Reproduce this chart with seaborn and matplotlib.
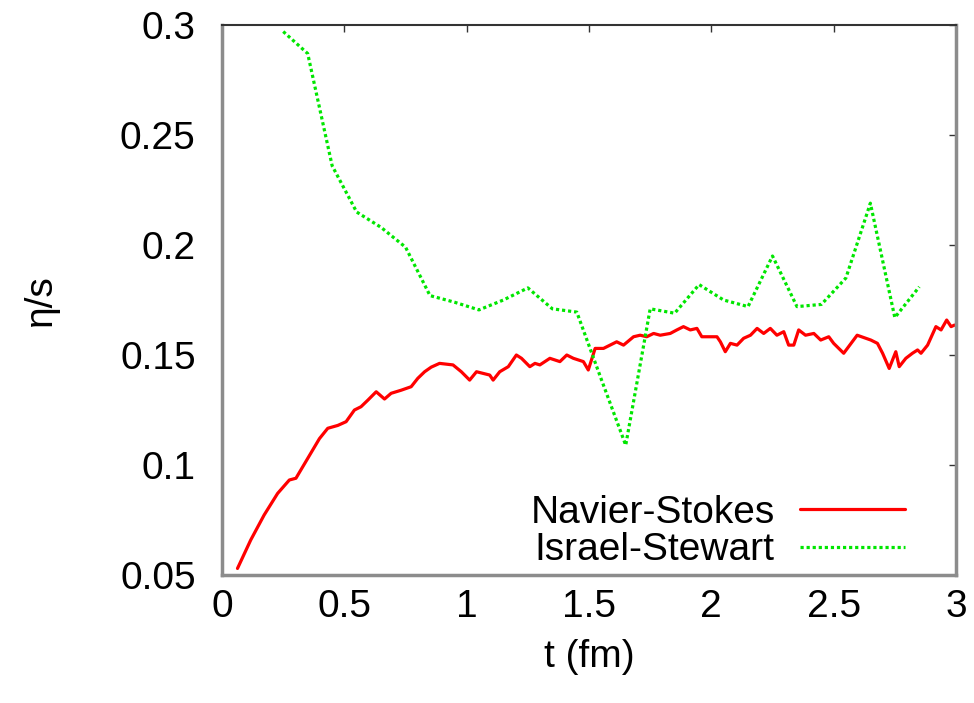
"""
eta/s versus time: Navier-Stokes vs Israel-Stewart extraction.
Values read off the reference figure.
"""

import pandas as pd
import matplotlib
matplotlib.use("Agg")
import matplotlib.pyplot as plt
import seaborn as sns

# ─── Data ─────────────────────────────────────────────────────────────────────

ns_t = [0.063, 0.117, 0.172, 0.227, 0.275, 0.302, 0.35, 0.398, 0.432, 0.473,
        0.507, 0.541, 0.568, 0.596, 0.63, 0.664, 0.691, 0.732, 0.773, 0.80,
        0.828, 0.855, 0.889, 0.944, 0.978, 1.012, 1.04, 1.094, 1.108, 1.135,
        1.17, 1.203, 1.224, 1.258, 1.279, 1.299, 1.34, 1.381, 1.409, 1.436,
        1.477, 1.497, 1.525, 1.559, 1.586, 1.613, 1.641, 1.682, 1.709, 1.736,
        1.764, 1.791, 1.832, 1.859, 1.886, 1.914, 1.941, 1.961, 1.996, 2.023,
        2.037, 2.057, 2.078, 2.105, 2.132, 2.16, 2.187, 2.214, 2.241, 2.268,
        2.296, 2.316, 2.337, 2.357, 2.385, 2.419, 2.447, 2.48, 2.5, 2.541,
        2.596, 2.652, 2.679, 2.70, 2.727, 2.754, 2.768, 2.795, 2.822, 2.843,
        2.857, 2.884, 2.918, 2.939, 2.962, 2.98, 2.994]
ns_eta = [0.053, 0.0659, 0.0773, 0.0871, 0.0932, 0.094, 0.103, 0.112, 0.1167, 0.118,
          0.1197, 0.125, 0.1265, 0.1295, 0.1333, 0.130, 0.1326, 0.134, 0.1356, 0.1394,
          0.1424, 0.1445, 0.1462, 0.1455, 0.1424, 0.1386, 0.1424, 0.1409, 0.1386, 0.1424,
          0.1447, 0.150, 0.1485, 0.1447, 0.1462, 0.1455, 0.1485, 0.147, 0.150, 0.1485,
          0.147, 0.1432, 0.153, 0.153, 0.1545, 0.156, 0.1545, 0.1583, 0.159, 0.1583,
          0.1598, 0.159, 0.1598, 0.1614, 0.1629, 0.1614, 0.1621, 0.1583, 0.1583, 0.1583,
          0.156, 0.1515, 0.1553, 0.1545, 0.1576, 0.159, 0.1621, 0.1598, 0.1621, 0.159,
          0.1606, 0.1545, 0.1545, 0.1614, 0.159, 0.1598, 0.1568, 0.1583, 0.1553, 0.1508,
          0.159, 0.1568, 0.1553, 0.1508, 0.1439, 0.1515, 0.1447, 0.1485, 0.1508, 0.1523,
          0.1508, 0.1545, 0.1629, 0.1614, 0.1659, 0.1629, 0.1636]

is_t = [0.25, 0.35, 0.45, 0.55, 0.65, 0.75, 0.85, 0.95, 1.05, 1.15, 1.25, 1.35,
        1.45, 1.55, 1.65, 1.75, 1.85, 1.95, 2.05, 2.15, 2.25, 2.35, 2.45, 2.55,
        2.65, 2.75, 2.85]
is_eta = [0.297, 0.287, 0.236, 0.215, 0.208, 0.199, 0.177, 0.174, 0.1705, 0.175,
          0.1805, 0.171, 0.1695, 0.139, 0.109, 0.171, 0.169, 0.182, 0.175, 0.172,
          0.195, 0.172, 0.173, 0.185, 0.219, 0.167, 0.181]

x_ticks = [0, 0.5, 1, 1.5, 2, 2.5, 3]
x_labels = ["0", "0.5", "1", "1.5", "2", "2.5", "3"]
y_ticks = [0.05, 0.1, 0.15, 0.2, 0.25, 0.3]
y_labels = ["0.05", "0.1", "0.15", "0.2", "0.25", "0.3"]

FS = 28


# ─── Plot ─────────────────────────────────────────────────────────────────────

def main():
    sns.set_style("white")
    plt.rcParams["font.family"] = ["Liberation Sans", "DejaVu Sans"]
    plt.rcParams["text.color"] = "black"
    plt.rcParams["axes.labelcolor"] = "black"
    plt.rcParams["xtick.labelcolor"] = "black"
    plt.rcParams["ytick.labelcolor"] = "black"

    ns = pd.DataFrame({"t": ns_t, "eta": ns_eta})
    isr = pd.DataFrame({"t": is_t, "eta": is_eta})

    fig = plt.figure(figsize=(9.74, 7.03), dpi=100)
    ax = fig.add_axes([0.228, 0.182, 0.7535, 0.7825])

    sns.lineplot(data=ns, x="t", y="eta", ax=ax, color="#ff0000", lw=2.3,
                 label="Navier-Stokes", sort=False)
    sns.lineplot(data=isr, x="t", y="eta", ax=ax, color="#00e600", lw=2.3,
                 linestyle=(0, (1, 0.9)), label="Israel-Stewart", sort=False)

    ax.set_xlim(0, 3)
    ax.set_ylim(0.05, 0.3)
    ax.set_xticks(x_ticks, x_labels)
    ax.set_yticks(y_ticks, y_labels)
    ax.tick_params(direction="in", length=5, width=1, labelsize=FS,
                   top=True, right=True, color="#333333", labelcolor="black")
    ax.tick_params(axis="y", pad=19)
    ax.tick_params(axis="x", pad=10)

    for side in ["left", "right", "bottom"]:
        ax.spines[side].set_color("#8c8c8c")
        ax.spines[side].set_linewidth(2.5)
    ax.spines["top"].set_color("#333333")
    ax.spines["top"].set_linewidth(1.5)

    ax.set_xlabel("t (fm)", fontsize=FS, labelpad=10, color="black")
    ax.set_ylabel("η/s", fontsize=FS, labelpad=44, color="black")

    leg = ax.legend(loc="lower right", frameon=False, fontsize=FS,
                    markerfirst=False, handlelength=2.7, handletextpad=0.65,
                    labelspacing=0.05, borderaxespad=0, borderpad=0,
                    bbox_to_anchor=(0.9305, 0.012))
    for t in leg.get_texts():
        t.set_color("black")

    fig.savefig("out.png", dpi=100)
    plt.close(fig)


if __name__ == "__main__":
    main()
